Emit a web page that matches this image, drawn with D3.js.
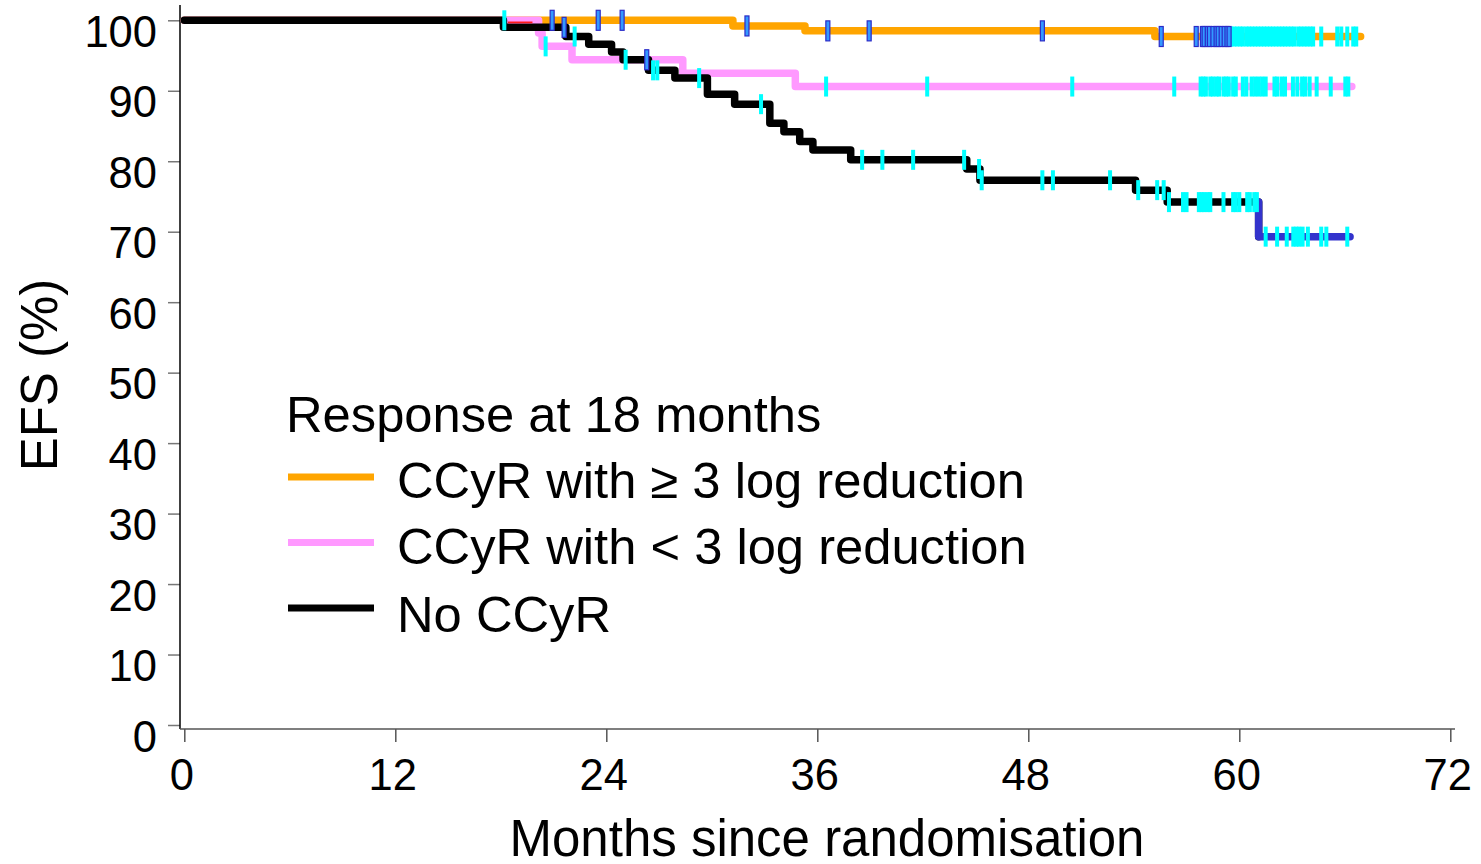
<!DOCTYPE html>
<html>
<head>
<meta charset="utf-8">
<script src="https://cdn.jsdelivr.net/npm/d3@7"></script>
<style>
  body { margin: 0; background: #fff; }
  svg text { font-family: "Liberation Sans", Arial, sans-serif; fill: #000; }
</style>
</head>
<body>
<div id="chart"></div>
<script>
// tick values
const xTicks = [0, 12, 24, 36, 48, 60, 72];
const yTicks = [0, 10, 20, 30, 40, 50, 60, 70, 80, 90, 100];

// CCyR with >= 3 log reduction (step times in months, EFS %)
const deepTimes = [0, 31.2, 35.3, 55.2];
const deepSurv = [100, 99.2, 98.5, 97.7];
const deepEnd = 66.9;
const deepCensorBlue = [20.92, 23.54, 24.9, 32.0, 36.6, 38.95, 48.8, 55.56, 57.55, 57.9, 58.0,
  58.18, 58.3, 58.5, 58.68, 58.8, 58.97, 59.14, 59.3, 59.42];
const deepCensorCyan = [59.54, 59.71, 59.88, 60.05, 60.2, 60.4, 60.56, 60.73, 60.9, 61.07, 61.24,
  61.41, 61.58, 61.75, 61.92, 62.1, 62.27, 62.44, 62.6, 62.78, 62.95, 63.12, 63.35, 63.52, 63.7,
  63.87, 64.04, 64.2, 64.66, 65.57, 65.8, 66.14, 66.48, 66.65];

// CCyR with < 3 log reduction
const partTimes = [0, 20.15, 20.35, 22.05, 28.35, 34.75];
const partSurv = [100, 98.2, 96.3, 94.4, 92.5, 90.6];
const partEnd = 66.4;
const partCensor = [18.2, 20.55, 36.5, 42.25, 50.5, 56.3, 57.8, 57.95, 58.1, 58.35, 58.5, 58.7,
  58.85, 59.1, 59.25, 59.4, 59.65, 59.8, 60.2, 60.4, 60.7, 60.9, 61.1, 61.3, 61.5, 62.0, 62.15,
  62.4, 62.6, 63.05, 63.3, 63.57, 63.75, 64.0, 64.4, 65.2, 66.03, 66.2];

// No CCyR
const noneTimes = [0, 18.15, 21.7, 23.0, 24.3, 24.95, 26.4, 27.9, 29.75, 31.3, 33.3, 34.1, 35.0,
  35.75, 37.9, 44.5, 45.25, 54.1, 55.9, 61.1];
const noneSurv = [100, 99.0, 97.7, 96.6, 95.5, 94.4, 92.9, 91.8, 89.5, 88.1, 85.4, 84.2, 82.8,
  81.6, 80.2, 78.9, 77.3, 75.9, 74.2, 69.3];
const noneEnd = 66.3;
const noneCensorBlue = [21.6, 26.3];
const noneCensorCyan = [22.2, 25.1, 26.66, 26.9, 29.28, 32.8, 38.55, 39.7, 41.45, 44.35, 45.2,
  45.35, 48.8, 49.4, 52.65, 54.25, 55.33, 55.7, 56.0, 56.8, 57.0, 57.7, 57.85, 58.0, 58.2, 58.35,
  59.1, 59.65, 59.8, 60.0, 60.45, 60.6, 60.85, 61.0, 61.5, 62.15, 62.7, 63.07, 63.24, 63.4, 63.6,
  63.9, 64.66, 64.95, 66.14];

// faint red trace under the start of the pink curve
const redTimes = [18.4, 19.8];
const redSurv = 99.7;

const legendLabels = ["CCyR with \u2265 3 log reduction", "CCyR with < 3 log reduction", "No CCyR"];
const legendColors = ["#ffa500", "#ff99ff", "#000000"];

const width = 1481, height = 864;
const svg = d3.select("#chart").append("svg")
  .attr("width", width).attr("height", height);

const x = d3.scaleLinear().domain([0, 72]).range([184.3, 1450.3]);
const y = d3.scaleLinear().domain([0, 100]).range([725, 20.3]);

// step value at time t
function survAt(times, surv, t) {
  let v = surv[0];
  for (let i = 0; i < times.length; i++) if (times[i] <= t) v = surv[i];
  return v;
}
function stepPoints(times, surv, end) {
  const pts = times.map((t, i) => [t, surv[i]]);
  pts.push([end, surv[surv.length - 1]]);
  return pts;
}

const stepLine = d3.line().x(d => x(d[0])).y(d => y(d[1])).curve(d3.curveStepAfter);
const plainLine = d3.line().x(d => x(d[0])).y(d => y(d[1]));

// axes
const yAxis = svg.append("g").attr("transform", "translate(180,0)")
  .call(d3.axisLeft(y).tickValues(yTicks).tickSize(12).tickPadding(0).tickFormat(d3.format("d")));
yAxis.select(".domain").remove();
yAxis.selectAll(".tick line").attr("stroke", "#777").attr("stroke-width", 1.5);
yAxis.selectAll(".tick text")
  .attr("x", -23).attr("dy", null).attr("y", 26)
  .style("font-size", "43.5px").attr("fill", "#000");
yAxis.append("line").attr("x1", 0).attr("x2", 0).attr("y1", 5).attr("y2", 729)
  .attr("stroke", "#000").attr("stroke-width", 1.5);

const xAxis = svg.append("g").attr("transform", "translate(0,729)")
  .call(d3.axisBottom(x).tickValues(xTicks).tickSize(13).tickPadding(0));
xAxis.select(".domain").remove();
xAxis.selectAll(".tick line").attr("stroke", "#555").attr("stroke-width", 1.5);
xAxis.selectAll(".tick text")
  .attr("dy", null).attr("y", 61).attr("x", -3)
  .style("font-size", "43.5px").attr("fill", "#000");
xAxis.append("line").attr("x1", 180).attr("x2", 1455).attr("y1", 0).attr("y2", 0)
  .attr("stroke", "#555").attr("stroke-width", 1.5);

svg.append("text").attr("x", 827).attr("y", 856).attr("text-anchor", "middle")
  .style("font-size", "51px").text("Months since randomisation");
svg.append("text").attr("transform", "translate(57,375) rotate(-90)").attr("text-anchor", "middle")
  .style("font-size", "51px").text("EFS (%)");

// curves: orange under, pink, black on top
const curves = svg.append("g").attr("fill", "none")
  .attr("stroke-width", 7.5).attr("stroke-linejoin", "round").attr("stroke-linecap", "round");

curves.append("path").attr("d", stepLine(stepPoints(deepTimes, deepSurv, deepEnd)))
  .attr("stroke", "#ffa500");
curves.append("path").attr("d", stepLine(stepPoints(partTimes, partSurv, partEnd)))
  .attr("stroke", "#ff99ff");
svg.append("path").attr("d", plainLine(redTimes.map(t => [t, redSurv])))
  .attr("stroke", "#ff1a1a").attr("stroke-width", 1.8).attr("fill", "none");
curves.append("path").attr("d", stepLine(noneTimes.map((t, i) => [t, noneSurv[i]])))
  .attr("stroke", "#000");
// last segment of the No CCyR curve drawn in blue
const n = noneTimes.length;
curves.append("path")
  .attr("d", plainLine([[noneTimes[n - 1], noneSurv[n - 2]], [noneTimes[n - 1], noneSurv[n - 1]], [noneEnd, noneSurv[n - 1]]]))
  .attr("stroke", "#3333cc");

// censor marks
function censor(times, stimes, ssurv, fill, stroke) {
  svg.append("g").selectAll("rect").data(times).join("rect")
    .attr("x", t => x(t) - 2)
    .attr("y", t => y(survAt(stimes, ssurv, t)) - 10)
    .attr("width", 4).attr("height", 20)
    .attr("fill", fill)
    .attr("stroke", stroke || "none").attr("stroke-width", stroke ? 1.2 : 0);
}
censor(partCensor, partTimes, partSurv, "#00ffff");
censor(noneCensorCyan, noneTimes, noneSurv, "#00ffff");
censor(noneCensorBlue, noneTimes, noneSurv, "#3399ff", "#2b2bc8");
censor(deepCensorCyan, deepTimes, deepSurv, "#00ffff");
censor(deepCensorBlue, deepTimes, deepSurv, "#3399ff", "#2b2bc8");

// legend
const legend = svg.append("g");
legend.append("text").attr("x", 286).attr("y", 432).style("font-size", "50.7px")
  .text("Response at 18 months");
const legendY = d3.scalePoint().domain(legendLabels).range([477, 608]);
legendLabels.forEach((lab, i) => {
  legend.append("line").attr("x1", 288).attr("x2", 374)
    .attr("y1", legendY(lab)).attr("y2", legendY(lab))
    .attr("stroke", legendColors[i]).attr("stroke-width", 7);
  legend.append("text").attr("x", 397).attr("y", legendY(lab) + 21 + (i === 2 ? 3 : 0))
    .style("font-size", "50.7px").text(lab);
});
</script>
</body>
</html>
